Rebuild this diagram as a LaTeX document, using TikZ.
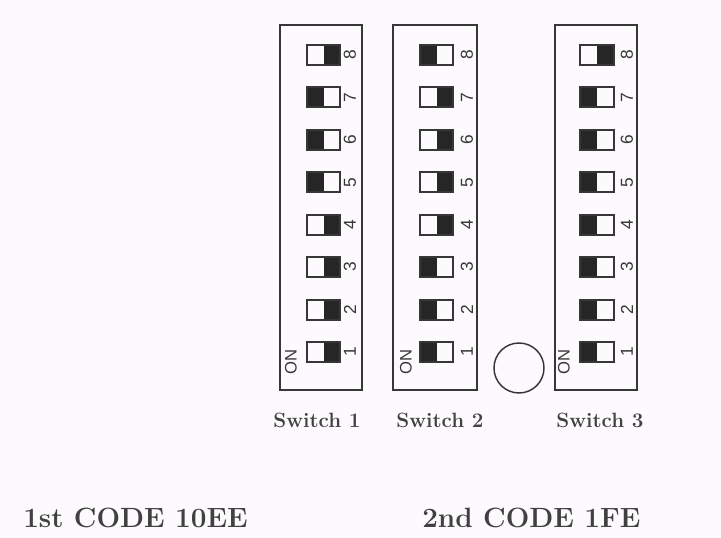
\documentclass[tikz,border=0pt]{standalone}
\usepackage{fontspec}
\newfontfamily\dipfont{Liberation Sans}
\definecolor{paper}{RGB}{253,250,253}
\definecolor{ink}{RGB}{55,55,55}
\definecolor{lever}{RGB}{38,38,38}
\definecolor{print}{RGB}{65,65,65}
\begin{document}
\begin{tikzpicture}[x=0.75pt,y=0.75pt,yscale=-1,xscale=1,
  dipbox/.style={draw=ink,line width=1.1pt},
  lever/.style={fill=lever},
  swbox/.style={draw=ink,line width=1.5pt},
  num/.style={text=ink,font=\dipfont\fontsize{13}{13}\selectfont,rotate=90,inner sep=0.75pt},
  onlbl/.style={text=ink,font=\dipfont\fontsize{12.5}{12.5}\selectfont,rotate=90,inner sep=0.75pt},
  swlbl/.style={text=print,font=\bfseries\fontsize{15.5}{18}\selectfont,anchor=base,inner sep=0pt},
  codelbl/.style={text=print,font=\bfseries\fontsize{20.9}{24}\selectfont,anchor=base west,inner sep=0pt}]
%set diagram size
\fill [paper] (0,0) rectangle (721,538);
\useasboundingbox (0,0) rectangle (721,538);

%Shape: Rectangle (Switch 1)
\draw [dipbox] (280,25) rectangle (362,390);
\fill [lever] (323.5,45) rectangle (340,65);
\fill [lever] (307,87.4) rectangle (323.5,107.4);
\fill [lever] (307,129.9) rectangle (323.5,149.9);
\fill [lever] (307,172.3) rectangle (323.5,192.3);
\fill [lever] (323.5,214.7) rectangle (340,234.7);
\fill [lever] (323.5,257.1) rectangle (340,277.1);
\fill [lever] (323.5,299.6) rectangle (340,319.6);
\fill [lever] (323.5,342) rectangle (340,362);
\draw [swbox] (307,45) rectangle (340,65);
\draw [swbox] (307,87.4) rectangle (340,107.4);
\draw [swbox] (307,129.9) rectangle (340,149.9);
\draw [swbox] (307,172.3) rectangle (340,192.3);
\draw [swbox] (307,214.7) rectangle (340,234.7);
\draw [swbox] (307,257.1) rectangle (340,277.1);
\draw [swbox] (307,299.6) rectangle (340,319.6);
\draw [swbox] (307,342) rectangle (340,362);

%Shape: Rectangle (Switch 2)
\draw [dipbox] (393,25) rectangle (477,390);
\fill [lever] (420,45) rectangle (436.5,65);
\fill [lever] (436.5,87.4) rectangle (453,107.4);
\fill [lever] (436.5,129.9) rectangle (453,149.9);
\fill [lever] (436.5,172.3) rectangle (453,192.3);
\fill [lever] (436.5,214.7) rectangle (453,234.7);
\fill [lever] (420,257.1) rectangle (436.5,277.1);
\fill [lever] (420,299.6) rectangle (436.5,319.6);
\fill [lever] (420,342) rectangle (436.5,362);
\draw [swbox] (420,45) rectangle (453,65);
\draw [swbox] (420,87.4) rectangle (453,107.4);
\draw [swbox] (420,129.9) rectangle (453,149.9);
\draw [swbox] (420,172.3) rectangle (453,192.3);
\draw [swbox] (420,214.7) rectangle (453,234.7);
\draw [swbox] (420,257.1) rectangle (453,277.1);
\draw [swbox] (420,299.6) rectangle (453,319.6);
\draw [swbox] (420,342) rectangle (453,362);

%Shape: Rectangle (Switch 3)
\draw [dipbox] (555,25) rectangle (637,390);
\fill [lever] (597,45) rectangle (614,65);
\fill [lever] (580,87.4) rectangle (597,107.4);
\fill [lever] (580,129.9) rectangle (597,149.9);
\fill [lever] (580,172.3) rectangle (597,192.3);
\fill [lever] (580,214.7) rectangle (597,234.7);
\fill [lever] (580,257.1) rectangle (597,277.1);
\fill [lever] (580,299.6) rectangle (597,319.6);
\fill [lever] (580,342) rectangle (597,362);
\draw [swbox] (580,45) rectangle (614,65);
\draw [swbox] (580,87.4) rectangle (614,107.4);
\draw [swbox] (580,129.9) rectangle (614,149.9);
\draw [swbox] (580,172.3) rectangle (614,192.3);
\draw [swbox] (580,214.7) rectangle (614,234.7);
\draw [swbox] (580,257.1) rectangle (614,277.1);
\draw [swbox] (580,299.6) rectangle (614,319.6);
\draw [swbox] (580,342) rectangle (614,362);

%Shape: Circle
\draw [dipbox] (519,368) circle (25);

% Text Node
\node [num] (a8) at (350,55) {8};
\node [num] (a7) at (350,97.4) {7};
\node [num] (a6) at (350,139.9) {6};
\node [num] (a5) at (350,182.3) {5};
\node [num] (a4) at (350,224.7) {4};
\node [num] (a3) at (350,267.1) {3};
\node [num] (a2) at (350,309.6) {2};
\node [num] (a1) at (350,352) {1};
\node [num] (b8) at (467,55) {8};
\node [num] (b7) at (467,97.4) {7};
\node [num] (b6) at (467,139.9) {6};
\node [num] (b5) at (467,182.3) {5};
\node [num] (b4) at (467,224.7) {4};
\node [num] (b3) at (467,267.1) {3};
\node [num] (b2) at (467,309.6) {2};
\node [num] (b1) at (467,352) {1};
\node [num] (c8) at (627,55) {8};
\node [num] (c7) at (627,97.4) {7};
\node [num] (c6) at (627,139.9) {6};
\node [num] (c5) at (627,182.3) {5};
\node [num] (c4) at (627,224.7) {4};
\node [num] (c3) at (627,267.1) {3};
\node [num] (c2) at (627,309.6) {2};
\node [num] (c1) at (627,352) {1};
% Text Node
\node [onlbl] (ona) at (291,362) {ON};
\node [onlbl] (onb) at (406,362) {ON};
\node [onlbl] (onc) at (564,362) {ON};
% Text Node
\node [swlbl] (swa) at (317,427) {Switch 1};
\node [swlbl] (swb) at (440,427) {Switch 2};
\node [swlbl] (swc) at (600,427) {Switch 3};
% Text Node
\node [codelbl] (codea) at (23,527) {1st CODE 10EE};
\node [codelbl] (codeb) at (422,527) {2nd CODE 1FE};

\end{tikzpicture}
\end{document}
